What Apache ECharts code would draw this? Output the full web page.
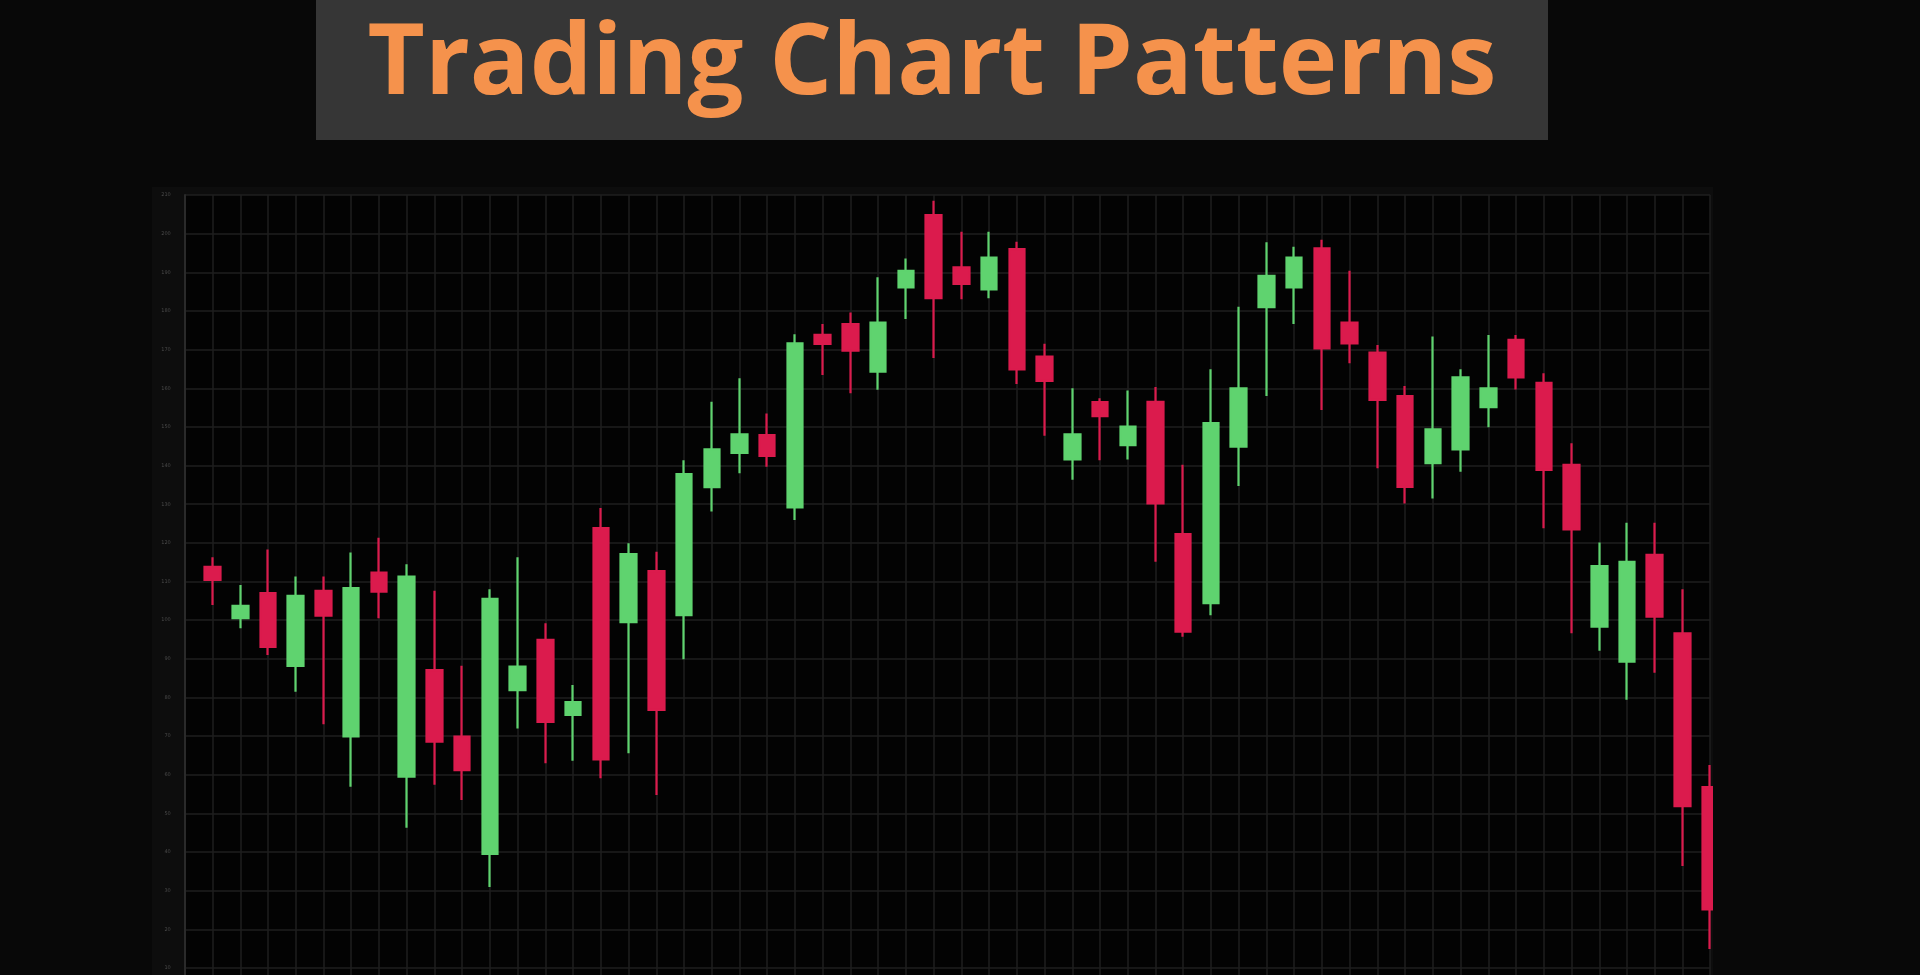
<!DOCTYPE html>
<html>
<head>
<meta charset="utf-8">
<script src="https://cdn.jsdelivr.net/npm/echarts@6/dist/echarts.min.js"></script>
<style>
html,body{margin:0;padding:0;background:#080808;}
#chart{width:1920px;height:975px;}
</style>
</head>
<body>
<div id="chart"></div>
<script>
// ---- data (price units; one horizontal grid step = 10) ----
const titleText = 'Trading Chart Patterns';
const categories = ['', 'D1','D2','D3','D4','D5','D6','D7','D8','D9','D10','D11','D12','D13','D14','D15','D16','D17','D18','D19','D20','D21','D22','D23','D24','D25','D26','D27','D28','D29','D30','D31','D32','D33','D34','D35','D36','D37','D38','D39','D40','D41','D42','D43','D44','D45','D46','D47','D48','D49','D50','D51','D52','D53','D54','D55'];
const opens  = [null,113.8,100.5,107.0, 88.2,107.6, 69.9,112.3, 59.5, 87.1, 69.9, 39.5, 81.9, 94.9, 75.5,123.8, 99.5,112.7,101.3,134.4,143.3,147.9,129.2,173.8,176.6,164.3,186.1,204.8,191.3,185.6,196.0,168.2,141.6,156.4,145.3,156.5,122.3,104.4,144.9,181.0,186.1,196.2,177.0,169.2,158.0,140.6,144.2,155.1,172.5,161.4,140.2, 98.3, 89.3,116.9, 96.6, 56.8];
const closes = [null,110.4,103.7, 93.1,106.3,101.2,108.3,107.4,111.3, 68.6, 61.2,105.5, 88.0, 73.7, 78.8, 64.0,117.1, 76.8,137.8,144.2,148.1,142.5,171.6,171.5,169.7,177.0,190.4,183.3,187.0,193.8,164.9,161.9,148.1,152.8,150.1,130.2, 97.0,151.0,160.0,189.1,193.8,170.3,171.6,157.0,134.5,149.4,162.8,160.0,162.8,138.9,123.5,114.0,115.1,100.9, 51.9, 25.2];
const lows   = [null,103.9, 97.9, 91.0, 81.5, 73.1, 56.9,100.5, 46.3, 57.4, 53.5, 31.0, 72.0, 63.0, 63.6, 59.1, 65.6, 54.8, 89.9,128.1,138.0,139.7,125.9,163.4,158.7,159.6,177.9,167.8,183.0,183.3,161.1,147.7,136.3,141.4,141.6,115.1, 95.7,101.3,134.7,158.0,176.6,154.4,166.5,139.3,130.2,131.5,138.4,149.9,159.7,123.8, 96.6, 92.1, 79.4, 86.4, 36.4, 14.9];
const highs  = [null,116.3,109.1,118.3,111.3,111.3,117.5,121.3,114.5,107.6, 88.2,108.0,116.3, 99.2, 83.2,129.0,119.9,117.7,141.4,156.5,162.6,153.5,174.0,176.6,179.6,188.7,193.6,208.5,200.5,200.5,197.9,171.5,160.0,157.4,159.4,160.3,140.2,164.9,181.1,197.8,196.6,198.4,190.4,171.2,160.6,173.4,164.9,173.8,173.8,163.9,145.8,120.1,125.2,125.2,108.0, 62.5];
const yMin = 0, yMax = 210, yStep = 10;

const ohlc = categories.map((c, i) =>
  opens[i] == null ? '-' : [opens[i], closes[i], lows[i], highs[i]]
);

const UP = '#5fd36f', DOWN = '#db1b4d';
const chart = echarts.init(document.getElementById('chart'), null, {renderer: 'canvas'});
chart.setOption({
  backgroundColor: '#080808',
  animation: false,
  graphic: [
    { type: 'rect', z: -10, silent: true,
      shape: { x: 152, y: 187, width: 1561, height: 800 },
      style: { fill: '#0d0d0d' } },
    { type: 'rect', z: 20, silent: true,
      shape: { x: 1713, y: 180, width: 40, height: 800 },
      style: { fill: '#080808' } },
    { type: 'rect', z: 10, silent: true,
      shape: { x: 316, y: 0, width: 1232, height: 140 },
      style: { fill: '#363636' } },
    { type: 'text', z: 11, silent: true, x: 932, y: 66,
      style: { text: titleText, fill: '#f5924c', font: 'bold 99px "Open Sans"',
               align: 'center', verticalAlign: 'middle' } }
  ],
  grid: { left: 184.8, top: 195, width: 1525.4, height: 811.7,
          outerBoundsMode: 'none', containLabel: false,
          show: true, backgroundColor: '#030303', borderWidth: 0 },
  xAxis: {
    type: 'category', data: categories, boundaryGap: false,
    axisLine: { show: false }, axisTick: { show: false },
    axisLabel: { show: false, interval: 0 },
    splitLine: { show: true, interval: 0, lineStyle: { color: '#1f1f1f', width: 1.5 } }
  },
  yAxis: {
    type: 'value', min: yMin, max: yMax, interval: yStep, scale: false,
    axisLine: { show: true, lineStyle: { color: '#2a2a2a', width: 2 } },
    axisTick: { show: false },
    axisLabel: { show: true, fontSize: 5, color: '#4a4a4a', margin: 14,
                 fontFamily: 'DejaVu Sans' },
    splitLine: { show: true, lineStyle: { color: '#1f1f1f', width: 1.5 } }
  },
  series: [{
    type: 'candlestick',
    data: ohlc,
    barWidth: 16,
    clip: true,
    itemStyle: {
      color: UP, color0: DOWN,
      borderColor: UP, borderColor0: DOWN,
      borderWidth: 2.2
    }
  }]
});
</script>
</body>
</html>
